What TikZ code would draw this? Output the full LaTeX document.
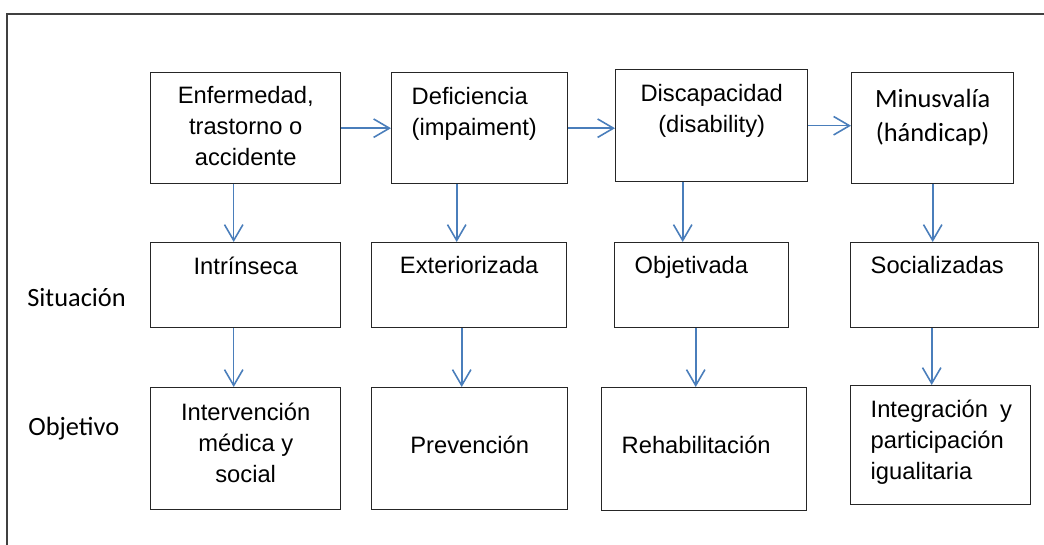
\documentclass[tikz,border=0pt]{standalone}
\usepackage{fontspec}
\setmainfont{Liberation Sans}
\newfontfamily\calibri{Carlito}
\usetikzlibrary{arrows.meta}

\definecolor{arrblue}{RGB}{74,126,187}
\definecolor{framegray}{RGB}{64,64,64}
\newdimen\px \px=0.02cm
\newcommand{\ctxt}[4]{\parbox[t][#2\px][t]{#1\px}{\vspace*{#3\px}\centering #4\par}}
\newcommand{\ltxt}[4]{\parbox[t][#2\px][t]{#1\px}{\vspace*{#3\px}\raggedright\leftskip=20\px #4\par}}

\begin{document}
\begin{tikzpicture}[x=0.02cm,y=-0.02cm,
  box/.style={draw=black!85,line width=0.8pt,inner sep=0pt,anchor=north west,
    font=\fontsize{13.5}{17.6}\selectfont},
  lbl/.style={inner sep=0pt,anchor=base west,font=\calibri\fontsize{15}{18}\selectfont},
  arr/.style={draw=arrblue,line width=0.9pt,-{Straight Barb[length=9pt,width=10.5pt]}}]
\useasboundingbox (0,0) rectangle (1044,544);
\clip (0,0) rectangle (1044,544);
\draw[draw=framegray,line width=1.1pt] (7,14) rectangle (1070,570);

\node[box] (enf) at (150,72) {\ctxt{190}{111}{14}{Enfermedad,\\trastorno o\\accidente}};
\node[box] (def) at (391,72) {\ltxt{176}{111}{15}{Deficiencia\\(impaiment)}};
\node[box] (dis) at (615,69) {\ctxt{192}{112}{15}{Discapacidad\\(disability)}};
\node[box,font=\calibri\fontsize{15}{19.5}\selectfont] (min) at (851,72) {\ctxt{162}{111}{16}{Minusvalía\\(hándicap)}};

\node[box] (intr) at (150,242) {\ctxt{190}{85}{14}{Intrínseca}};
\node[box] (ext) at (371,242) {\ctxt{195}{85}{14}{Exteriorizada}};
\node[box] (obj) at (614,242) {\ltxt{174}{85}{14}{Objetivada}};
\node[box] (soc) at (850,242) {\ltxt{188}{85}{14}{Socializadas}};

\node[box] (interv) at (150,387) {\ctxt{190}{122}{15}{Intervención\\médica y\\social}};
\node[box] (prev) at (371,387) {\ctxt{196}{122}{48}{Prevención}};
\node[box] (rehab) at (601,387) {\ltxt{205}{123}{48}{Rehabilitación}};
\node[box] (integ) at (850,385) {\ltxt{180}{119}{14}{Integración\hspace{12\px}y\\participación\\igualitaria}};

\node[lbl] (sit) at (27,306) {Situación};
\node[lbl] (objt) at (28,435) {Objetivo};

\draw[arr] (enf.east) -- (def.west);
\draw[arr] (def.east) -- (def.east -| dis.west);
\draw[arr] (dis.east) -- (dis.east -| min.west);

\draw[arr] ([xshift=-12\px]enf.south) -- ([xshift=-12\px]intr.north);
\draw[arr] ([xshift=-23\px]def.south) -- ([xshift=-12.5\px]ext.north);
\draw[arr] ([xshift=-29\px]dis.south) -- ([xshift=-19\px]obj.north);
\draw[arr] (min.south) -- ([xshift=-12\px]soc.north);

\draw[arr] ([xshift=-12\px]intr.south) -- ([xshift=-12\px]interv.north);
\draw[arr] ([xshift=-7.5\px]ext.south) -- ([xshift=-8\px]prev.north);
\draw[arr] ([xshift=-6\px]obj.south) -- ([xshift=-8.5\px]rehab.north);
\draw[arr] ([xshift=-13\px]soc.south) -- ([xshift=-9\px]integ.north);
\end{tikzpicture}
\end{document}
